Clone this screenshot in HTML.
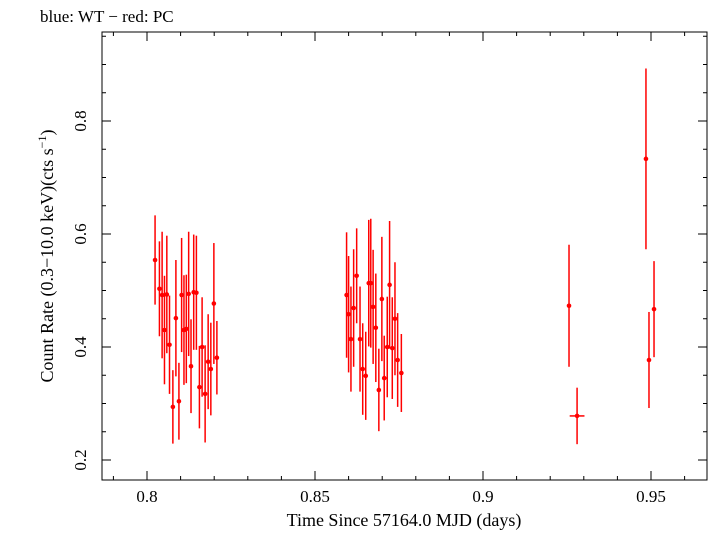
<!DOCTYPE html>
<html><head><meta charset="utf-8"><style>
body{margin:0;background:#fff}
svg text{font-family:"Liberation Serif",serif;fill:#000}
</style></head><body>
<svg width="709" height="532" xmlns="http://www.w3.org/2000/svg">
<rect x="0" y="0" width="709" height="532" fill="#fff"/>
<text x="40" y="22" font-size="17">blue: WT − red: PC</text>
<rect x="102" y="32" width="605" height="448" fill="none" stroke="#000" stroke-width="1"/>
<g id="axes"></g>
<g id="marks"></g>
<text x="404" y="526" font-size="18" text-anchor="middle">Time Since 57164.0 MJD (days)</text>
<text transform="translate(53,256) rotate(-90)" font-size="18" text-anchor="middle">Count Rate (0.3−10.0 keV)(cts s<tspan font-size="12" dy="-7">−1</tspan><tspan dy="7">)</tspan></text>
</svg>
<script>
const xs=[0.8024,0.8037,0.8045,0.8052,0.8059,0.8067,0.8077,0.8086,0.8095,0.8103,0.8110,0.8117,0.8124,0.8131,0.8139,0.8147,0.8156,0.8164,0.8173,0.8182,0.8190,0.8199,0.8208,
0.8594,0.8600,0.8607,0.8615,0.8624,0.8634,0.8642,0.8651,0.8660,0.8666,0.8673,0.8681,0.8690,0.8699,0.8706,0.8715,0.8722,0.8730,0.8738,0.8746,0.8757,
0.9256,0.9280,0.9485,0.9494,0.9509];
const ys=[0.554,0.503,0.492,0.430,0.493,0.404,0.294,0.451,0.304,0.492,0.430,0.432,0.494,0.366,0.497,0.496,0.329,0.400,0.317,0.374,0.361,0.477,0.381,
0.492,0.458,0.414,0.469,0.526,0.414,0.361,0.349,0.513,0.513,0.471,0.434,0.324,0.485,0.345,0.400,0.510,0.398,0.450,0.377,0.354,
0.473,0.278,0.733,0.377,0.467];
const yerr=[0.079,0.084,0.112,0.096,0.104,0.087,0.065,0.103,0.068,0.101,0.097,0.096,0.110,0.083,0.102,0.101,0.073,0.088,0.086,0.084,0.082,0.107,0.065,
0.111,0.103,0.093,0.104,0.084,0.093,0.081,0.078,0.112,0.114,0.101,0.096,0.073,0.110,0.075,0.089,0.113,0.090,0.100,0.083,0.069,
0.108,0.050,0.160,0.085,0.085];
const xerr=[0.0004,0.0004,0.0004,0.0004,0.0004,0.0004,0.0004,0.0004,0.0004,0.0004,0.0004,0.0004,0.0004,0.0004,0.0004,0.0004,0.0004,0.0004,0.0004,0.0004,0.0004,0.0004,0.0004,
0.0004,0.0004,0.0004,0.0004,0.0004,0.0004,0.0004,0.0004,0.0004,0.0004,0.0004,0.0004,0.0004,0.0004,0.0004,0.0004,0.0004,0.0004,0.0004,0.0004,0.0004,
0.0004,0.0022,0.0004,0.0004,0.0004];
const xTicks=[0.8,0.85,0.9,0.95];
const xTickLabels=["0.8","0.85","0.9","0.95"];
const yTicks=[0.2,0.4,0.6,0.8];
const yTickLabels=["0.2","0.4","0.6","0.8"];

const X=v=>147+(v-0.8)*3360;
const Y=v=>460-(v-0.2)*565;
const NS="http://www.w3.org/2000/svg";
const axes=document.getElementById('axes'), marks=document.getElementById('marks');
function mk(tag,attrs,parent){const e=document.createElementNS(NS,tag);for(const k in attrs)e.setAttribute(k,attrs[k]);parent.appendChild(e);return e;}
for(let v=0.79;v<=0.971;v+=0.01){const x=X(v);const major=xTicks.some(t=>Math.abs(t-v)<1e-6);const L=major?9:4;
 const t1=mk('line',{x1:x,x2:x,y1:480,y2:480-L,stroke:'#000'},axes);
 
 
 mk('line',{x1:x,x2:x,y1:32,y2:32+L,stroke:'#000'},axes);}
for(let v=0.15;v<=0.96;v+=0.05){const y=Y(v);if(y<32||y>480)continue;const major=yTicks.some(t=>Math.abs(t-v)<1e-6);const L=major?9:4;
 const t2=mk('line',{x1:102,x2:102+L,y1:y,y2:y,stroke:'#000'},axes);
 
 
 mk('line',{x1:707,x2:707-L,y1:y,y2:y,stroke:'#000'},axes);}
xTicks.forEach((v,i)=>{const t=mk('text',{x:X(v),y:502,'font-size':17,'text-anchor':'middle'},axes);t.textContent=xTickLabels[i];
 
 });
yTicks.forEach((v,i)=>{const t=mk('text',{transform:`translate(86,${Y(v)}) rotate(-90)`,'font-size':17,'text-anchor':'middle'},axes);t.textContent=yTickLabels[i];
 
 });
xs.forEach((v,i)=>{const g=mk('g',{},marks);
 
 
 const x=X(v),y=Y(ys[i]);
 mk('line',{x1:x,x2:x,y1:Y(ys[i]+yerr[i]),y2:Y(ys[i]-yerr[i]),stroke:'#f00','stroke-width':1.5},g);
 mk('line',{x1:X(v-xerr[i]),x2:X(v+xerr[i]),y1:y,y2:y,stroke:'#f00','stroke-width':1.5},g);
 mk('circle',{cx:x,cy:y,r:2.3,fill:'#f00'},g);});
</script>
</body></html>
